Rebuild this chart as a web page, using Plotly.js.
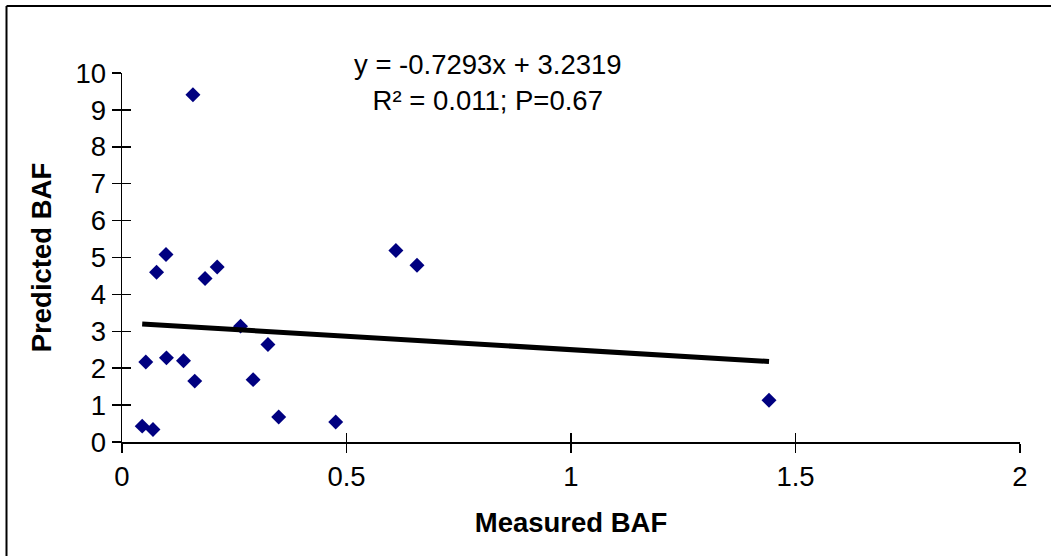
<!DOCTYPE html>
<html>
<head>
<meta charset="utf-8">
<script src="https://cdn.plot.ly/plotly-3.0.1.min.js"></script>
<style>html,body{margin:0;padding:0;background:#fff;}#chart{width:1051px;height:556px;}</style>
</head>
<body>
<div id="chart"></div>
<script>
// Data
const measuredBAF = [0.158, 0.098, 0.077, 0.185, 0.212, 0.264, 0.325, 0.053, 0.099, 0.137, 0.162, 0.292, 0.349, 0.476, 0.045, 0.069, 0.610, 0.657, 1.441];
const predictedBAF = [9.41, 5.08, 4.60, 4.43, 4.74, 3.14, 2.64, 2.17, 2.28, 2.20, 1.65, 1.69, 0.68, 0.54, 0.43, 0.34, 5.19, 4.79, 1.13];
const trendSlope = -0.7293;
const trendIntercept = 3.2319;
const equationText = "y = -0.7293x + 3.2319<br>R² = 0.011; P=0.67";
const xTickVals = [0, 0.5, 1, 1.5, 2];
const xTickText = ["0", "0.5", "1", "1.5", "2"];
const yTickVals = [0,1,2,3,4,5,6,7,8,9,10];

const xMin = Math.min(...measuredBAF), xMax = Math.max(...measuredBAF);
const trendX = [xMin, xMax];
const trendY = trendX.map(v => trendSlope * v + trendIntercept);

const FONT = 'Arial, "Liberation Sans", sans-serif';
const FS = 27.5;

const traces = [
  {
    x: trendX, y: trendY, type: 'scatter', mode: 'lines', xaxis: 'x2', yaxis: 'y2',
    line: {color: '#000000', width: 5}, hoverinfo: 'skip', showlegend: false
  },
  {
    x: measuredBAF, y: predictedBAF, type: 'scatter', mode: 'markers',
    marker: {symbol: 'diamond', color: '#000080', size: 11.5, line: {width: 0}},
    showlegend: false
  }
];

const L = 122, R = 31, T = 73, B = 114;
const W = 1051, H = 556;
const pw = W - L - R, ph = H - T - B;
const px = v => (v - L) / pw;
const py = v => (H - B - v) / ph;

const layout = {
  width: W, height: H,
  margin: {l: L, r: R, t: T, b: B, pad: 0},
  paper_bgcolor: '#ffffff', plot_bgcolor: '#ffffff',
  font: {family: FONT, size: FS, color: '#000000'},
  showlegend: false,
  xaxis: {
    range: [0, 2], tickvals: xTickVals, ticktext: xTickText,
    showgrid: false, zeroline: false, showline: true, linecolor: '#000', linewidth: 1.5,
    ticks: 'outside', ticklen: 9, tickwidth: 1.5, tickcolor: '#000',
    tickfont: {family: FONT, size: FS},
    title: {text: '<b>Measured BAF</b>', font: {family: FONT, size: FS}, standoff: 22},
    automargin: false
  },
  yaxis: {
    range: [0, 10], tickvals: yTickVals,
    showgrid: false, zeroline: false, showline: true, linecolor: '#000', linewidth: 1.5,
    ticks: 'outside', ticklen: 9, tickwidth: 1.5, tickcolor: '#000',
    tickfont: {family: FONT, size: FS},
    title: {text: '<b>Predicted BAF</b>', font: {family: FONT, size: FS}, standoff: 16},
    automargin: false
  },
  xaxis2: {
    range: [0, 2], tickvals: xTickVals, overlaying: 'x', anchor: 'y2',
    showgrid: false, zeroline: false, showline: false, showticklabels: false,
    ticks: 'inside', ticklen: 9, tickwidth: 1.5, tickcolor: '#000', side: 'bottom'
  },
  yaxis2: {
    range: [0, 10], tickvals: yTickVals, overlaying: 'y', anchor: 'x2',
    showgrid: false, zeroline: false, showline: false, showticklabels: false,
    ticks: 'inside', ticklen: 9, tickwidth: 1.5, tickcolor: '#000', side: 'left'
  },
  annotations: [{
    text: equationText, xref: 'paper', yref: 'paper',
    x: px(488), y: py(82), xanchor: 'center', yanchor: 'middle',
    showarrow: false, align: 'center', font: {family: FONT, size: FS, color: '#000'}
  }],
  shapes: [
    {type: 'line', xref: 'paper', yref: 'paper', x0: px(6.5), x1: px(1060), y0: py(6), y1: py(6),
     line: {color: '#000', width: 2}},
    {type: 'line', xref: 'paper', yref: 'paper', x0: px(6.5), x1: px(6.5), y0: py(6), y1: py(570),
     line: {color: '#000', width: 2}}
  ]
};

Plotly.newPlot('chart', traces, layout, {displayModeBar: false, staticPlot: true});
</script>
</body>
</html>
